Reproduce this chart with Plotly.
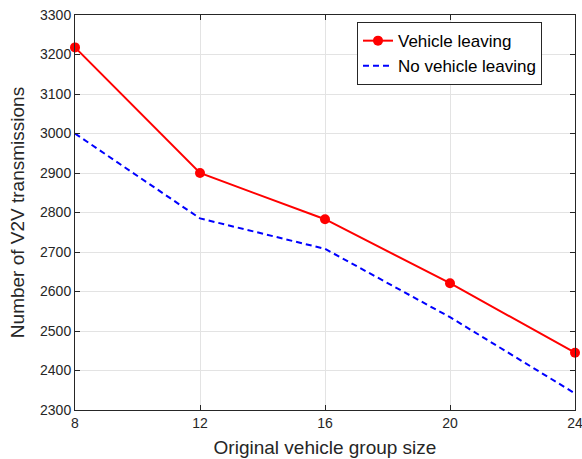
import plotly.graph_objects as go

group_size = [8, 12, 16, 20, 24]
vehicle_leaving = [3218, 2900, 2783, 2621, 2445]
no_vehicle_leaving = [3000, 2785, 2708, 2535, 2342]
x_ticks = [8, 12, 16, 20, 24]
y_ticks = list(range(2300, 3301, 100))

fig = go.Figure()
fig.add_trace(go.Scatter(
    x=group_size, y=vehicle_leaving, name="Vehicle leaving",
    mode="lines+markers",
    line=dict(color="#ff0000", width=2),
    marker=dict(color="#ff0000", size=10, symbol="circle"),
    cliponaxis=False,
))
fig.add_trace(go.Scatter(
    x=group_size, y=no_vehicle_leaving, name="No vehicle leaving",
    mode="lines",
    line=dict(color="#0000ff", width=2, dash="6px,4px"),
))

axis_common = dict(
    showgrid=True, gridcolor="#e3e3e3", gridwidth=1,
    showline=True, linecolor="#262626", linewidth=1, mirror="ticks",
    ticks="inside", ticklen=5, tickcolor="#262626",
    tickfont=dict(family="Liberation Sans, Arial, sans-serif", size=14, color="#262626"),
    zeroline=False, automargin=False, ticklabeloverflow="allow",
)

fig.update_layout(
    width=582, height=459,
    margin=dict(l=75, r=7, t=15, b=49),
    paper_bgcolor="white", plot_bgcolor="white",
    font=dict(family="Liberation Sans, Arial, sans-serif", color="#262626"),
    xaxis=dict(range=[8, 24], tickvals=x_ticks,
               title=dict(text="Original vehicle group size", font=dict(size=19), standoff=10),
               **axis_common),
    yaxis=dict(range=[2300, 3300], tickvals=y_ticks,
               title=dict(text="Number of V2V transmissions", font=dict(size=19), standoff=10),
               **axis_common),
    legend=dict(x=0.564, y=0.982, xanchor="left", yanchor="top",
                bordercolor="#262626", borderwidth=1, bgcolor="white",
                font=dict(size=17, color="#000000"),
                tracegroupgap=0, itemwidth=30),
    showlegend=True,
)

fig.write_html("out.html", config={"displayModeBar": False},
               post_script="document.body.style.margin='0';")
